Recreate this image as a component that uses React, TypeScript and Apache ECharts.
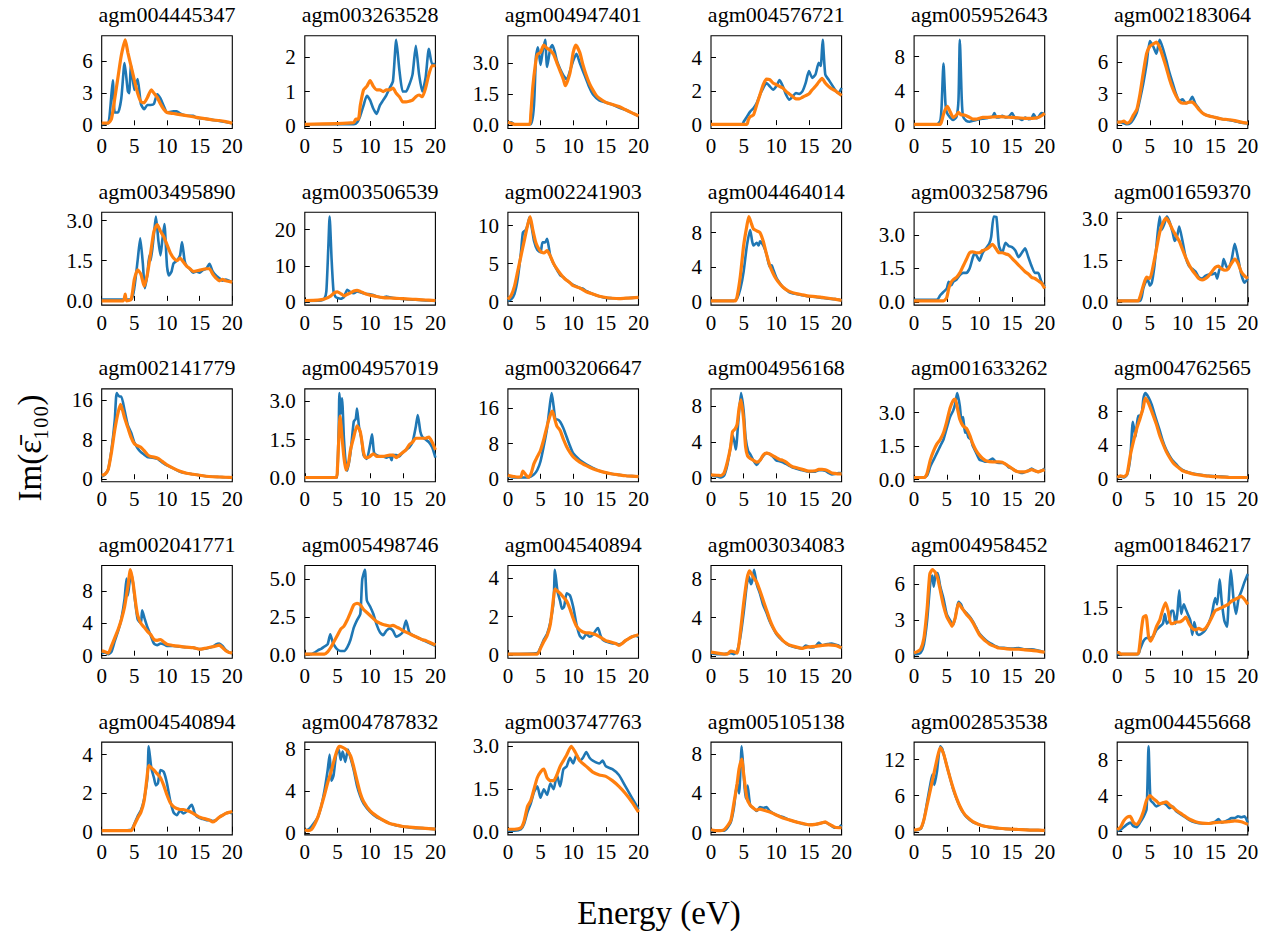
import React, { useEffect, useRef } from "react";
import * as echarts from "echarts";

const titles = [
  "agm004445347", "agm003263528", "agm004947401", "agm004576721", "agm005952643", "agm002183064",
  "agm003495890", "agm003506539", "agm002241903", "agm004464014", "agm003258796", "agm001659370",
  "agm002141779", "agm004957019", "agm003206647", "agm004956168", "agm001633262", "agm004762565",
  "agm002041771", "agm005498746", "agm004540894", "agm003034083", "agm004958452", "agm001846217",
  "agm004540894", "agm004787832", "agm003747763", "agm005105138", "agm002853538", "agm004455668",
];

const yTicks = [
  [0, 3, 6], [0, 1, 2], [0, 1.5, 3], [0, 2, 4], [0, 4, 8], [0, 3, 6],
  [0, 1.5, 3], [0, 10, 20], [0, 5, 10], [0, 4, 8], [0, 1.5, 3], [0, 1.5, 3],
  [0, 8, 16], [0, 1.5, 3], [0, 8, 16], [0, 4, 8], [0, 1.5, 3], [0, 4, 8],
  [0, 4, 8], [0, 2.5, 5], [0, 2, 4], [0, 4, 8], [0, 3, 6], [0, 1.5],
  [0, 2, 4], [0, 4, 8], [0, 1.5, 3], [0, 4, 8], [0, 6, 12], [0, 4, 8],
];
const yDecimals = [
  0, 0, 1, 0, 0, 0,
  1, 0, 0, 0, 1, 1,
  0, 1, 0, 0, 1, 0,
  0, 1, 0, 0, 0, 1,
  0, 0, 1, 0, 0, 0,
];
const xTicks = [0, 5, 10, 15, 20];

const b01 = [[0,0.1],[1,0.2],[1.3,1.5],[1.7,4.2],[2,1.2],[2.5,1.2],[3,2.5],[3.5,5.8],[4,3.2],[4.2,3.0],[4.5,5.6],[5,3.3],[5.5,4.3],[6,2.0],[6.5,1.5],[7,1.9],[7.5,1.9],[8,2.0],[8.5,2.9],[9,2.5],[9.5,1.8],[10,1.2],[11,1.3],[11.5,1.3],[12,1.1],[13,0.9],[14,0.9],[14.5,0.7],[16,0.6],[18,0.4],[20,0.2]];
const o01 = [[0,0.2],[1,0.2],[1.5,0.6],[2,2.5],[2.5,4.5],[3,6.5],[3.6,7.95],[4,6.8],[4.5,5.5],[5,4.2],[5.5,3.0],[6,2.2],[6.5,2.1],[7,2.6],[7.6,3.3],[8,3.0],[8.5,2.6],[9,2.0],[9.5,1.5],[10,1.2],[11,1.1],[12,1.0],[13,0.9],[14,0.8],[15,0.7],[16,0.6],[17,0.5],[18,0.45],[19,0.35],[20,0.2]];
const b02 = [[0,0.05],[7.5,0.05],[8,0.1],[8.5,0.3],[9,0.6],[9.5,0.88],[10,0.75],[10.5,0.5],[11,0.35],[11.5,0.6],[12,0.75],[12.5,0.9],[13,1.1],[13.5,1.3],[14,2.5],[14.5,1.6],[15,1.0],[15.5,1.0],[16,1.2],[16.5,1.5],[17,2.33],[17.5,1.5],[18,1.0],[18.5,1.4],[19,2.24],[19.5,1.8],[20,1.8]];
const o02 = [[0,0.05],[7.5,0.1],[7.8,0.2],[8.2,0.2],[8.5,0.6],[9,1.05],[9.5,1.15],[10,1.32],[10.5,1.15],[11,1.05],[11.5,1.05],[12,1.0],[12.5,1.05],[13,1.05],[13.5,1.1],[14,0.95],[14.5,0.85],[15,0.7],[15.5,0.7],[16,0.72],[16.5,0.75],[17,0.85],[17.5,0.9],[18,0.85],[18.5,1.1],[19,1.5],[19.5,1.75],[20,1.75]];
const b03 = [[0,0.1],[0.5,0.15],[1,0.05],[3.5,0.05],[4,1.0],[4.3,3.3],[4.6,3.75],[5,2.9],[5.3,3.5],[5.7,4.1],[6,2.8],[6.5,3.7],[6.8,3.85],[7.2,3.5],[7.5,3.1],[8,2.7],[8.5,2.4],[9,2.2],[9.5,2.6],[10,3.1],[10.5,3.43],[11,3.0],[11.5,2.6],[12,2.2],[12.5,1.8],[13,1.5],[14,1.2],[15,1.1],[16,1.0],[17,0.85],[18,0.75],[19,0.6],[20,0.45]];
const o03 = [[0,0.15],[0.5,0.1],[1,0.05],[3.3,0.05],[3.5,0.5],[3.8,1.8],[4.2,2.9],[4.5,3.4],[5,3.5],[5.5,3.85],[6,3.7],[6.5,3.6],[7,3.4],[7.5,3.0],[8,2.6],[8.5,2.2],[8.8,1.9],[9.5,2.5],[10,3.5],[10.4,3.85],[11,3.5],[11.5,2.9],[12,2.4],[12.5,2.0],[13,1.7],[13.5,1.45],[14,1.3],[15,1.1],[16,1.0],[16.5,0.95],[17,0.9],[18,0.75],[19,0.6],[20,0.45]];
const b04 = [[0,0.05],[4.8,0.05],[5,0.2],[5.5,0.5],[6,0.8],[6.5,1.0],[7,1.3],[7.5,1.8],[8,2.2],[8.5,2.5],[9,2.3],[9.5,2.1],[10,2.3],[10.5,2.67],[11,2.3],[11.5,1.8],[12,1.5],[12.5,1.7],[13,1.9],[13.5,1.85],[14,2.0],[14.5,2.5],[15,3.2],[15.5,2.8],[16,3.0],[16.5,3.7],[16.8,3.5],[17.1,5.05],[17.5,3.0],[18,2.7],[18.5,2.4],[19,2.1],[19.5,1.9],[20,2.2]];
const o04 = [[0,0.05],[5.5,0.05],[5.7,0.3],[6,0.5],[6.5,0.6],[7,1.2],[7.5,1.8],[8,2.4],[8.5,2.73],[9,2.7],[9.5,2.5],[10,2.4],[10.5,2.3],[11,2.2],[11.5,2.0],[12,1.85],[12.5,1.7],[13,1.55],[13.5,1.55],[14,1.65],[14.5,1.75],[15,1.85],[15.5,2.1],[16,2.3],[16.5,2.55],[17,2.77],[17.5,2.5],[18,2.3],[18.5,2.15],[19,2.05],[19.5,1.9],[20,1.75]];
const b05 = [[0,0.1],[3.5,0.1],[4,0.5],[4.2,2],[4.5,7.2],[4.8,2.5],[5,1.5],[5.5,0.9],[6,0.6],[6.5,1.0],[6.8,3],[7.0,9.96],[7.3,3],[7.5,1.0],[8,0.5],[8.5,0.4],[9,0.5],[9.5,0.6],[10,0.7],[11,0.8],[11.5,0.9],[12,1.0],[12.3,1.4],[12.6,0.9],[13,0.9],[13.5,1.1],[14,0.9],[14.5,1.0],[15,1.4],[15.5,0.8],[16,0.8],[16.5,0.6],[17,0.9],[17.5,0.7],[18,0.8],[18.3,1.3],[18.7,0.8],[19,0.9],[19.5,1.4],[20,1.3]];
const o05 = [[0,0.1],[4,0.1],[4.2,0.4],[4.6,1.5],[5.1,2.2],[5.5,1.6],[6,0.9],[6.5,1.2],[6.8,1.5],[7.2,1.2],[7.5,1.2],[8,1.1],[8.5,0.9],[9,0.7],[9.5,0.7],[10,0.8],[10.5,0.9],[11,0.9],[12,0.95],[13,1.0],[14,0.95],[15,0.9],[16,0.85],[17,0.8],[18,0.8],[19,0.9],[19.5,1.1],[20,1.4]];
const b06 = [[0,0.3],[0.5,0.3],[1,0.2],[1.5,0.1],[2,0.2],[2.5,0.6],[3,1.2],[3.5,2.5],[4,4.0],[4.5,5.8],[5,8.0],[5.5,7.5],[6,6.8],[6.5,8.1],[7,7.3],[7.5,6.2],[8,5.0],[8.5,4.0],[9,3.0],[9.5,2.3],[10,2.46],[10.5,2.1],[11,2.2],[11.5,2.7],[12,2.0],[12.5,1.6],[13,1.2],[13.5,1.0],[14,0.9],[15,0.75],[16,0.6],[17,0.5],[18,0.4],[19,0.25],[20,0.2]];
const o06 = [[0,0.3],[0.5,0.3],[1,0.4],[1.5,0.2],[2,0.4],[2.5,1.0],[3,1.5],[3.5,3.0],[4,5.0],[4.5,6.8],[5,7.5],[5.5,7.7],[6,7.9],[6.5,7.4],[7,6.5],[7.5,5.5],[8,4.4],[8.5,3.5],[9,2.8],[9.5,2.3],[10,2.1],[10.5,2.1],[11,2.2],[11.5,2.2],[12,1.9],[12.5,1.5],[13,1.2],[13.5,1.0],[14,0.9],[15,0.75],[16,0.6],[17,0.55],[18,0.45],[19,0.3],[20,0.2]];
const b07 = [[0,0.05],[4.5,0.05],[5,0.5],[5.5,1.5],[5.9,2.34],[6.3,1.4],[6.6,0.47],[7,1.0],[7.3,1.7],[7.5,1.5],[8,2.5],[8.3,3.15],[8.7,2.2],[9,1.7],[9.3,2.3],[9.6,2.87],[10,1.3],[10.3,0.95],[10.7,1.1],[11,1.4],[11.5,1.5],[12,1.7],[12.3,2.2],[12.7,1.5],[13,1.3],[13.5,1.2],[14,1.05],[14.5,1.1],[15,1.05],[15.5,1.15],[16,1.2],[16.5,1.38],[17,1.1],[17.5,0.95],[18,0.85],[18.5,0.75],[19,0.8],[19.5,0.75],[20,0.7]];
const o07 = [[0,0.0],[3.3,0.0],[3.6,0.25],[3.8,0.0],[4.5,0.05],[5,0.8],[5.5,1.16],[6,1.0],[6.5,0.55],[7,1.0],[7.5,1.8],[8,2.6],[8.5,2.85],[9,2.6],[9.5,2.4],[10,2.1],[10.5,1.8],[11,1.6],[11.5,1.5],[12,1.6],[12.5,1.45],[13,1.3],[13.5,1.2],[14,1.1],[15,1.15],[16,1.2],[16.5,1.2],[17,1.0],[17.5,0.85],[18,0.75],[18.5,0.8],[19,0.75],[20,0.7]];
const b08 = [[0,0.4],[2.5,0.5],[3,1.0],[3.3,3],[3.6,15],[3.8,23.6],[4.1,12],[4.4,3],[4.7,1.5],[5,1.2],[5.5,1.0],[6,1.5],[6.5,3.45],[7,2.8],[7.5,2.5],[8,3.0],[8.5,2.8],[9,2.5],[9.5,2.3],[10,2.2],[10.5,2.0],[11,1.6],[12,1.3],[12.5,1.6],[13,1.4],[14,1.1],[15,0.9],[16,0.8],[17,0.7],[18,0.6],[19,0.5],[20,0.4]];
const o08 = [[0,0.5],[2,0.6],[3,0.9],[4,1.8],[4.5,2.6],[5,2.9],[5.5,2.4],[6,1.8],[6.5,2.2],[7,2.6],[7.5,3.1],[8,3.3],[8.5,3.0],[9,2.6],[9.5,2.2],[10,2.0],[11,1.6],[12,1.3],[13,1.2],[14,1.1],[15,1.0],[16,0.9],[17,0.8],[18,0.7],[19,0.6],[20,0.5]];
const b09 = [[0,0.1],[0.5,0.3],[1,1.0],[1.5,3.0],[2,6.5],[2.3,9.1],[2.7,9.4],[3,10.0],[3.3,11.1],[3.7,9.5],[4,8.0],[4.5,6.8],[5,6.5],[5.3,7.8],[5.7,7.8],[6,8.26],[6.3,7.0],[6.5,6.0],[7,5.0],[7.5,4.2],[8,3.5],[8.5,3.2],[9,2.8],[9.5,2.5],[10,2.2],[11,1.8],[11.5,1.7],[12,1.4],[13,1.0],[14,0.7],[15,0.5],[16,0.45],[17,0.4],[18,0.45],[19,0.5],[20,0.55]];
const o09 = [[0,0.3],[0.5,0.8],[1,2.0],[1.5,4.0],[2,6.0],[2.5,8.0],[3,10.0],[3.4,11.2],[3.8,9.5],[4.2,8.0],[4.5,7.3],[5,6.6],[5.5,6.4],[6,6.7],[6.5,6.0],[7,5.0],[7.5,4.3],[8,3.7],[8.5,3.2],[9,2.8],[9.5,2.5],[10,2.1],[11,1.8],[12,1.3],[13,1.0],[14,0.7],[15,0.55],[16,0.45],[17,0.4],[18,0.45],[19,0.5],[20,0.55]];
const b10 = [[0,0.1],[3.5,0.1],[4,0.4],[4.5,1.5],[5,3.5],[5.5,6.5],[6,8.3],[6.3,7.0],[6.5,6.5],[7,6.8],[7.3,6.5],[7.5,7.0],[8,6.5],[8.5,5.5],[9,4.0],[9.3,4.2],[9.5,3.8],[10,2.8],[10.5,2.2],[11,1.7],[11.5,1.4],[12,1.1],[13,0.9],[14,0.75],[15,0.6],[16,0.55],[17,0.45],[18,0.35],[19,0.3],[20,0.15]];
const o10 = [[0,0.1],[3.7,0.1],[4,0.6],[4.5,3.0],[5,6.5],[5.5,8.8],[5.8,9.85],[6.2,9.0],[6.5,8.4],[7,8.2],[7.5,8.0],[8,7.0],[8.5,5.5],[9,4.2],[9.5,3.3],[10,2.6],[10.5,2.1],[11,1.7],[11.5,1.4],[12,1.2],[13,0.95],[14,0.8],[15,0.65],[16,0.6],[17,0.5],[18,0.4],[19,0.3],[20,0.15]];
const b11 = [[0,0.1],[3.5,0.1],[4,0.3],[4.5,0.45],[5,0.6],[5.3,0.9],[5.7,0.75],[6,0.9],[6.5,1.0],[7,1.2],[7.5,1.3],[8,1.3],[8.5,1.5],[9,2.0],[9.3,2.2],[9.7,2.0],[10,1.85],[10.5,2.2],[11,2.4],[11.5,2.6],[11.8,2.9],[12.2,3.82],[12.6,3.8],[13,2.5],[13.5,2.2],[14,2.65],[14.5,2.5],[15,2.45],[15.5,2.3],[16,2.0],[16.5,2.2],[17,2.4],[17.5,2.0],[18,1.6],[18.5,1.3],[19,1.3],[19.5,0.9],[20,0.7]];
const o11 = [[0,0.05],[4.5,0.05],[5,0.2],[5.3,0.6],[5.7,0.9],[6,1.0],[6.5,1.1],[7,1.3],[7.5,1.6],[8,1.9],[8.5,2.2],[9,2.24],[9.5,2.2],[10,2.2],[10.5,2.3],[11,2.35],[11.5,2.45],[12,2.58],[12.5,2.4],[13,2.2],[13.5,2.2],[14,2.15],[14.5,2.1],[15,1.95],[15.5,1.8],[16,1.65],[16.5,1.5],[17,1.35],[17.5,1.25],[18,1.1],[18.5,1.05],[19,0.95],[19.5,0.85],[20,0.6]];
const b12 = [[0,0.05],[3.5,0.05],[4,0.5],[4.3,0.7],[4.7,0.8],[5,0.6],[5.3,0.7],[5.7,1.3],[6,2.0],[6.5,3.08],[6.8,2.6],[7.2,2.8],[7.6,3.08],[8,2.9],[8.5,2.5],[8.8,2.2],[9.2,2.4],[9.5,2.72],[10,2.2],[10.5,1.6],[11,1.3],[11.5,1.2],[12,1.1],[12.5,0.9],[13,0.85],[13.5,0.95],[14,1.0],[14.5,1.0],[15,1.05],[15.3,0.85],[15.7,1.2],[16,1.2],[16.3,1.55],[16.7,1.3],[17,1.2],[17.5,1.5],[18,2.1],[18.5,1.6],[19,1.0],[19.5,0.7],[20,0.85]];
const o12 = [[0,0.05],[3.2,0.05],[3.5,0.2],[4,0.6],[4.5,0.9],[5,0.85],[5.5,1.3],[6,1.9],[6.5,2.5],[7,2.85],[7.5,3.02],[8,2.85],[8.5,2.6],[9,2.4],[9.5,2.2],[10,1.9],[10.5,1.6],[11,1.35],[11.5,1.15],[12,1.0],[12.5,0.85],[13,0.8],[13.5,0.85],[14,0.95],[14.5,1.1],[15,1.25],[15.5,1.3],[16,1.2],[16.5,1.15],[17,1.2],[17.5,1.4],[18,1.55],[18.5,1.4],[19,1.1],[19.5,0.95],[20,0.85]];
const b13 = [[0,0.5],[0.5,1.0],[1,2.0],[1.5,6.0],[2,12.0],[2.3,17.5],[2.7,16.8],[3,16.8],[3.5,14.0],[4,11.0],[4.5,9.5],[5,7.5],[5.5,6.3],[6,5.5],[6.5,5.0],[7,4.5],[7.5,4.4],[8,4.3],[8.5,4.2],[9,3.7],[9.5,3.2],[10,2.8],[11,2.2],[12,1.5],[13,1.2],[14,1.0],[15,0.8],[16,0.6],[17,0.5],[18,0.45],[19,0.4],[20,0.4]];
const o13 = [[0,0.8],[0.5,1.0],[1,2.0],[1.5,5.5],[2,10.0],[2.5,13.5],[2.9,15.2],[3.5,12.5],[4,10.5],[4.5,8.5],[5,7.2],[5.5,6.8],[6,6.5],[6.5,5.8],[7,5.0],[7.5,4.6],[8,4.5],[8.5,4.3],[9,3.9],[9.5,3.4],[10,2.9],[11,2.2],[12,1.6],[13,1.2],[14,1.0],[15,0.8],[16,0.6],[17,0.5],[18,0.45],[19,0.4],[20,0.35]];
const b14 = [[0,0.03],[4.8,0.03],[5,0.3],[5.2,2.0],[5.3,3.3],[5.5,2.5],[5.7,3.1],[6,1.5],[6.3,0.5],[6.5,0.3],[7,1.0],[7.5,2.2],[7.8,2.3],[8,2.7],[8.3,2.0],[8.7,1.5],[9,0.9],[9.5,0.75],[10,1.3],[10.3,1.7],[10.6,1.0],[11,0.9],[11.5,0.85],[12,0.85],[12.5,0.8],[13,0.85],[13.3,0.7],[13.5,0.9],[14,0.9],[14.5,0.85],[15,1.0],[15.5,1.1],[16,1.2],[16.5,1.4],[17,2.0],[17.3,2.45],[17.7,1.8],[18,1.6],[18.5,1.5],[19,1.4],[19.5,1.2],[20,0.8]];
const o14 = [[0,0.03],[4.8,0.03],[5,0.4],[5.2,1.5],[5.4,2.41],[5.7,1.6],[6,0.8],[6.3,0.32],[6.7,0.6],[7,1.1],[7.5,1.6],[8,2.03],[8.5,1.8],[9,1.0],[9.3,0.8],[9.5,0.8],[10,0.85],[10.5,0.95],[11,0.85],[12,0.85],[13,0.9],[13.5,0.9],[14,0.8],[14.5,0.9],[15,1.0],[15.5,1.1],[16,1.3],[16.5,1.4],[17,1.55],[18,1.55],[18.5,1.55],[19,1.6],[19.5,1.4],[20,1.1]];
const b15 = [[0,0.5],[1,0.3],[3,0.3],[3.5,0.5],[4,1.0],[4.5,2.0],[5,4.0],[5.5,7.5],[6,11.5],[6.4,16.5],[6.7,19.5],[7,16.5],[7.3,13.5],[7.6,13.5],[8,13.0],[8.5,11.5],[9,9.5],[9.5,7.5],[10,5.8],[11,4.3],[12,3.3],[13,2.5],[14,1.8],[15,1.4],[16,1.1],[17,0.9],[18,0.7],[19,0.6],[20,0.5]];
const o15 = [[0,0.8],[0.5,0.6],[1,0.5],[1.5,0.4],[2,0.5],[2.3,1.75],[2.7,1.0],[3.1,0.3],[3.5,1.0],[4,3.5],[4.5,5.0],[5,6.5],[5.5,9.0],[6,12.0],[6.5,14.5],[6.8,15.4],[7.2,13.5],[7.5,12.0],[8,11.0],[8.5,9.0],[9,7.3],[9.5,6.0],[10,5.0],[11,3.8],[12,3.0],[13,2.3],[14,1.8],[15,1.4],[16,1.1],[17,0.9],[18,0.7],[19,0.6],[20,0.5]];
const b16 = [[0,0.3],[1,0.2],[1.5,0.1],[2,0.3],[2.5,1.5],[3,3.5],[3.3,4.8],[3.6,4.0],[3.8,3.2],[4.2,6.5],[4.6,9.47],[5,7.5],[5.3,4.5],[5.7,3.0],[6,2.7],[6.5,2.0],[7,1.5],[7.5,2.0],[8,2.5],[8.5,2.8],[9,2.7],[9.5,2.4],[10,2.0],[10.5,1.9],[11,1.8],[11.5,1.6],[12,1.4],[12.5,1.2],[13,1.1],[14,0.9],[15,0.75],[16,0.75],[16.5,0.9],[17,0.9],[17.5,0.85],[18,0.6],[18.5,0.45],[19,0.5],[19.5,0.6],[20,0.6]];
const o16 = [[0,0.4],[1,0.35],[1.5,0.3],[2,0.6],[2.5,1.8],[3,3.5],[3.3,5.2],[3.7,5.5],[4,6.0],[4.3,7.8],[4.6,8.73],[5,6.5],[5.3,3.5],[5.6,2.5],[6,2.2],[6.5,2.0],[7,1.8],[7.5,2.0],[8,2.6],[8.5,2.8],[9,2.7],[9.5,2.5],[10,2.3],[10.5,2.1],[11,2.0],[11.5,1.8],[12,1.5],[12.5,1.3],[13,1.2],[14,1.0],[15,0.8],[16,0.85],[16.5,1.0],[17,1.0],[17.5,0.95],[18,0.8],[18.5,0.6],[19,0.55],[19.5,0.5],[20,0.5]];
const b17 = [[0,0.1],[1.5,0.1],[2,0.2],[2.5,0.6],[3,0.9],[3.5,1.2],[4,1.5],[4.5,1.8],[5,2.3],[5.5,2.8],[6,3.1],[6.3,3.4],[6.6,3.87],[7,3.3],[7.3,2.5],[7.5,2.8],[7.8,2.1],[8,2.2],[8.3,1.9],[8.7,1.8],[9,1.5],[9.5,1.2],[10,0.9],[10.5,0.85],[11,0.8],[11.5,0.85],[12,0.95],[12.5,0.8],[13,0.75],[13.5,0.75],[14,0.7],[14.5,0.55],[15,0.5],[15.5,0.4],[16,0.35],[16.5,0.3],[17,0.35],[17.5,0.4],[18,0.5],[18.5,0.4],[19,0.35],[19.5,0.4],[20,0.5]];
const o17 = [[0,0.1],[1.6,0.1],[2,0.3],[2.5,0.9],[3,1.3],[3.5,1.6],[4,1.8],[4.5,2.1],[5,2.6],[5.5,3.2],[6,3.55],[6.3,3.6],[6.7,3.1],[7,2.7],[7.5,2.4],[8,2.3],[8.5,2.0],[9,1.6],[9.5,1.3],[10,1.1],[10.5,0.95],[11,0.85],[12,0.8],[13,0.8],[13.5,0.78],[14,0.7],[14.5,0.6],[15,0.5],[15.5,0.4],[16,0.35],[17,0.35],[17.5,0.4],[18,0.45],[18.5,0.4],[19,0.35],[19.5,0.4],[20,0.45]];
const b18 = [[0,0.2],[0.5,0.3],[1,0.2],[1.5,0.5],[2,2.5],[2.4,6.8],[2.8,5.0],[3.2,7.5],[3.5,7.5],[3.8,8.0],[4,9.5],[4.3,10.2],[4.8,9.7],[5.3,8.8],[5.8,7.5],[6.5,5.8],[7,4.5],[7.5,3.5],[8,2.8],[8.5,2.2],[9,1.8],[9.5,1.4],[10,1.1],[11,0.8],[12,0.6],[13,0.5],[14,0.4],[15,0.35],[16,0.3],[17,0.25],[18,0.2],[20,0.2]];
const o18 = [[0,0.2],[0.5,0.4],[1,0.3],[1.5,0.6],[2,2.8],[2.5,4.5],[3,6.0],[3.5,7.2],[4,8.5],[4.3,9.6],[4.8,9.0],[5.3,8.0],[6,6.5],[6.5,5.2],[7,4.2],[7.5,3.3],[8,2.6],[8.5,2.0],[9,1.6],[9.5,1.3],[10,1.0],[11,0.75],[12,0.55],[13,0.45],[14,0.35],[15,0.3],[16,0.25],[17,0.22],[18,0.2],[20,0.2]];
const b19 = [[0,0.3],[0.5,0.4],[1,0.2],[1.5,0.5],[2,1.8],[2.5,3.0],[3,4.5],[3.5,7.0],[3.8,9.5],[4,7.4],[4.3,9.2],[4.6,10.0],[5,7.5],[5.5,4.5],[6,4.0],[6.2,5.6],[6.6,4.5],[7,3.5],[7.5,2.5],[8,1.5],[8.5,1.3],[9,1.5],[9.5,1.4],[10,1.2],[11,1.2],[12,1.1],[13,1.05],[14,1.0],[15,0.8],[16,0.9],[17,1.1],[17.5,1.4],[18,1.5],[18.5,1.2],[19,0.7],[19.5,0.4],[20,0.3]];
const o19 = [[0,0.6],[0.5,0.5],[1,0.3],[1.5,1.2],[2,2.2],[2.5,3.2],[3,4.4],[3.5,6.0],[4,8.5],[4.4,10.6],[4.8,9.0],[5.2,6.5],[5.5,5.0],[6,4.0],[6.5,3.5],[7,3.0],[7.5,2.6],[8,2.0],[8.5,1.9],[9,2.0],[9.5,1.7],[10,1.4],[11,1.25],[12,1.15],[13,1.05],[14,1.0],[15,0.8],[16,0.95],[17,1.1],[17.5,1.2],[18,1.3],[18.5,1.0],[19,0.6],[19.5,0.4],[20,0.35]];
const b20 = [[0,0.05],[1,0.05],[1.5,0.15],[2,0.3],[2.5,0.4],[3,0.55],[3.5,0.7],[3.9,1.36],[4.3,0.8],[4.7,0.5],[5,0.35],[5.5,0.25],[6,0.25],[6.5,0.5],[7,1.0],[7.5,1.8],[8,2.3],[8.5,2.7],[8.8,5.0],[9.2,5.63],[9.5,3.6],[10,3.2],[10.5,2.7],[11,2.0],[11.5,1.5],[12,1.3],[12.5,1.6],[13,1.75],[13.5,1.6],[14,1.2],[14.5,1.3],[15,1.5],[15.5,2.26],[16,1.5],[16.5,1.3],[17,1.2],[17.5,1.1],[18,1.0],[18.5,0.9],[19,0.8],[19.5,0.7],[20,0.6]];
const o20 = [[0,0.05],[3,0.05],[3.5,0.2],[4,0.5],[4.5,0.9],[5,1.3],[5.5,1.7],[6,1.9],[6.5,2.3],[7,2.8],[7.5,3.3],[8,3.4],[8.5,3.3],[9,3.0],[9.5,2.8],[10,2.6],[10.5,2.4],[11,2.2],[11.5,2.1],[12,2.0],[12.5,1.95],[13,1.9],[13.5,1.95],[14,1.85],[14.5,1.75],[15,1.6],[15.5,1.5],[16,1.4],[16.5,1.3],[17,1.2],[17.5,1.1],[18,1.0],[18.5,0.95],[19,0.85],[19.5,0.75],[20,0.65]];
const b21 = [[0,0.05],[4.5,0.1],[5,0.4],[5.5,0.8],[6,1.1],[6.5,1.7],[7,2.8],[7.2,4.43],[7.6,3.3],[8,2.8],[8.3,2.4],[8.6,2.5],[9,3.2],[9.5,3.1],[10,2.5],[10.5,1.6],[11,1.0],[11.5,0.85],[12,1.1],[12.5,0.95],[13,1.05],[13.5,1.3],[13.8,1.4],[14.2,1.0],[14.5,0.8],[15,0.7],[15.5,0.65],[16,0.6],[16.5,0.6],[17,0.55],[17.5,0.6],[18,0.75],[18.5,0.85],[19,0.95],[19.5,1.0],[20,0.95]];
const o21 = [[0,0.05],[4.5,0.05],[5,0.35],[5.5,0.7],[6,1.0],[6.5,1.6],[7,3.0],[7.2,3.43],[7.5,3.35],[8,3.2],[8.5,3.0],[9,2.8],[9.5,2.4],[10,1.9],[10.5,1.5],[11,1.3],[11.5,1.2],[12,1.15],[12.5,1.15],[13,1.1],[13.5,1.05],[14,0.95],[14.5,0.85],[15,0.75],[15.5,0.7],[16,0.65],[16.5,0.6],[17,0.5],[17.5,0.6],[18,0.75],[18.5,0.85],[19,0.95],[19.5,1.0],[20,1.05]];
const b22 = [[0,0.3],[1,0.2],[2,0.2],[3,0.3],[3.5,0.2],[4,0.5],[4.5,2.0],[5,4.5],[5.5,7.5],[5.8,8.3],[6.1,7.5],[6.3,7.8],[6.6,9.0],[7,7.5],[7.5,6.5],[8,5.3],[8.5,4.5],[9,3.6],[9.5,2.9],[10,2.3],[10.5,1.9],[11,1.6],[11.5,1.3],[12,1.1],[13,0.9],[14,0.8],[14.5,1.1],[15,0.95],[15.5,0.9],[16,1.0],[16.5,1.4],[17,1.1],[17.5,1.2],[18,1.25],[18.5,1.3],[19,1.2],[19.5,1.1],[20,0.8]];
const o22 = [[0,0.4],[1,0.3],[2,0.2],[2.5,0.2],[3,0.5],[3.5,0.45],[4,0.3],[4.5,2.5],[5,5.5],[5.5,8.0],[5.9,8.87],[6.5,8.2],[7,7.7],[7.5,6.8],[8,5.8],[8.5,4.8],[9,3.8],[9.5,3.0],[10,2.4],[10.5,2.0],[11,1.6],[11.5,1.35],[12,1.15],[13,0.95],[14,0.8],[14.5,0.9],[15,0.95],[16,1.0],[17,1.1],[18,1.15],[19,1.1],[19.5,1.0],[20,0.85]];
const b23 = [[0,0.2],[0.5,0.2],[1,0.3],[1.5,1.0],[2,3.0],[2.5,6.2],[2.8,6.7],[3,5.78],[3.3,6.8],[3.6,6.9],[4,5.8],[4.5,4.8],[5,3.5],[5.5,3.0],[6,2.6],[6.5,3.8],[6.8,4.52],[7.2,4.3],[7.5,3.9],[8,3.6],[8.5,3.3],[9,2.9],[9.5,2.4],[10,1.9],[10.5,1.6],[11,1.35],[11.5,1.15],[12,1.0],[12.5,0.85],[13,0.75],[14,0.7],[15,0.65],[16,0.7],[17,0.6],[18,0.6],[19,0.5],[20,0.35]];
const o23 = [[0,0.3],[0.5,0.4],[1,0.6],[1.5,1.5],[2,4.0],[2.4,6.8],[2.8,7.18],[3.2,7.0],[3.6,6.5],[4,5.5],[4.5,4.2],[5,3.3],[5.5,2.8],[5.8,2.5],[6.3,3.2],[6.8,4.4],[7.2,4.1],[7.6,3.8],[8,3.5],[8.5,3.2],[9,2.8],[9.5,2.3],[10,1.8],[10.5,1.5],[11,1.25],[11.5,1.05],[12,0.9],[12.5,0.8],[13,0.7],[14,0.65],[15,0.6],[16,0.6],[17,0.55],[18,0.5],[19,0.45],[20,0.35]];
const b24 = [[0,0.05],[3.2,0.05],[3.5,0.2],[4,0.45],[4.5,0.55],[5,0.55],[5.5,0.6],[6,0.8],[6.5,0.9],[7,1.0],[7.3,1.3],[7.6,1.0],[8,1.1],[8.3,1.4],[8.6,1.4],[8.9,1.0],[9.2,1.3],[9.5,2.04],[9.8,1.3],[10.2,1.6],[10.5,1.45],[10.8,1.3],[11.2,1.1],[11.5,0.65],[11.8,1.05],[12.2,0.7],[12.5,0.65],[13,0.7],[13.5,0.8],[14,1.0],[14.5,1.3],[15,1.8],[15.3,1.6],[15.7,2.38],[16,1.7],[16.4,1.1],[16.8,0.9],[17.1,1.8],[17.4,2.68],[17.8,1.8],[18.2,1.3],[18.6,1.8],[19,2.0],[19.5,2.3],[20,2.55]];
const o24 = [[0,0.1],[0.3,0.1],[0.5,0.05],[3,0.05],[3.3,0.1],[3.7,0.8],[4,1.2],[4.4,1.25],[4.8,0.6],[5.1,0.45],[5.5,0.6],[6,0.9],[6.5,1.1],[7,1.45],[7.4,1.65],[7.8,1.4],[8.2,1.0],[8.5,1.0],[9,1.05],[9.5,1.05],[10,1.1],[10.5,1.2],[11,1.0],[11.5,0.85],[12,0.8],[12.5,0.85],[13,0.8],[13.5,0.85],[14,1.0],[14.5,1.2],[15,1.4],[15.5,1.45],[16,1.5],[16.5,1.55],[17,1.6],[17.5,1.7],[18,1.75],[18.5,1.8],[19,1.85],[19.5,1.75],[20,1.6]];
const b26 = [[0,0.2],[0.5,0.3],[1,0.6],[1.5,1.0],[2,1.5],[2.5,2.5],[3,4],[3.5,6],[3.8,7.5],[4.1,5],[4.4,5.5],[4.8,7.5],[5.2,8.0],[5.5,7.0],[5.8,7.8],[6.2,6.8],[6.6,8.0],[7,7.2],[7.5,6],[8,4.5],[8.5,3.5],[9,2.8],[10,2.0],[11,1.5],[12,1.2],[13,0.9],[14,0.7],[15,0.6],[16,0.5],[17,0.45],[18,0.45],[19,0.4],[20,0.35]];
const o26 = [[0,0.3],[0.5,0.2],[1,0.3],[1.5,0.8],[2,1.5],[2.5,2.5],[3,3.6],[3.5,4.8],[4,5.8],[4.5,7.0],[5,8.0],[5.3,8.3],[5.8,8.2],[6.3,8.0],[7,7.4],[7.5,6.3],[8,5.0],[8.5,3.8],[9,3.0],[10,2.1],[11,1.6],[12,1.2],[13,0.9],[14,0.75],[15,0.6],[16,0.55],[17,0.5],[18,0.45],[19,0.4],[20,0.35]];
const b27 = [[0,0.05],[1,0.05],[2,0.1],[2.5,0.3],[3,0.7],[3.5,1.0],[4,1.4],[4.5,1.6],[5,1.2],[5.5,1.5],[6,1.3],[6.5,1.7],[7,1.5],[7.5,2.0],[8,1.6],[8.5,2.2],[9,2.3],[9.5,2.6],[10,2.4],[10.5,2.7],[11,2.5],[11.5,2.6],[12,2.8],[12.5,2.6],[13,2.5],[14,2.4],[14.5,2.5],[15,2.3],[16,2.2],[17,2.0],[18,1.6],[19,1.2],[20,0.8]];
const o27 = [[0,0.1],[1,0.1],[2,0.15],[2.5,0.4],[3,0.9],[3.5,1.1],[4,1.5],[4.5,1.9],[5,2.1],[5.5,2.2],[6,1.9],[6.5,1.8],[7,1.8],[7.5,2.0],[8,2.3],[8.5,2.5],[9,2.7],[9.7,3.0],[10.3,2.8],[11,2.5],[12,2.3],[13,2.1],[14,2.0],[15,1.95],[16,1.8],[17,1.6],[18,1.35],[19,1.05],[20,0.7]];
const b28 = [[0,0.2],[2,0.2],[3,1.0],[3.5,2.5],[4,5],[4.3,4],[4.7,8.8],[5,6],[5.3,3.5],[5.6,4.8],[6,2.8],[6.5,2.5],[7,2.2],[7.5,2.6],[8,2.5],[8.5,2.6],[9,2.2],[10,1.8],[11,1.6],[12,1.3],[13,1.1],[14,0.9],[15,0.8],[16,0.85],[17,1.0],[17.5,1.05],[18,0.9],[19,0.5],[19.5,0.5],[20,0.8]];
const o28 = [[0,0.3],[1,0.2],[2,0.3],[3,1.2],[3.5,3.0],[4,5.0],[4.3,6.5],[4.7,7.5],[5,6.0],[5.5,3.5],[6,2.8],[6.5,2.5],[7,2.3],[7.5,2.4],[8,2.3],[9,2.1],[10,1.8],[11,1.5],[12,1.3],[13,1.1],[14,0.95],[15,0.8],[16,0.85],[17,1.0],[17.5,1.1],[18,0.9],[19,0.55],[20,0.5]];
const b29 = [[0,0.2],[1,0.5],[1.5,2],[2,5],[2.5,8],[2.8,9.5],[3.1,7.8],[3.5,10],[4,14.2],[4.3,13.8],[5,11],[5.5,9],[6,7],[6.5,5.5],[7,4.2],[7.5,3.2],[8,2.5],[9,1.6],[10,1.2],[11,0.9],[12,0.7],[13,0.6],[14,0.5],[15,0.45],[16,0.4],[17,0.35],[18,0.3],[19,0.3],[20,0.25]];
const o29 = [[0,0.3],[1,0.6],[1.5,2.0],[2,4.5],[2.5,7],[3,9.5],[3.5,12],[4,14.0],[4.5,13],[5,11],[5.5,9],[6,7.2],[6.5,5.6],[7,4.3],[7.5,3.3],[8,2.6],[9,1.7],[10,1.2],[11,0.9],[12,0.75],[13,0.6],[14,0.5],[15,0.45],[16,0.4],[17,0.35],[18,0.3],[19,0.3],[20,0.25]];
const b30 = [[0,0.1],[0.5,0.2],[1,0.5],[1.5,0.8],[2,1.0],[2.5,0.6],[3,0.5],[3.5,1.0],[4,1.6],[4.5,2.5],[4.8,9.5],[5.1,3.5],[5.5,3.2],[6,2.8],[6.5,3.0],[7,3.2],[7.5,3.0],[8,2.6],[8.5,2.8],[9,2.3],[10,1.8],[11,1.3],[12,1.0],[13,0.9],[14,0.9],[15,1.1],[15.5,1.4],[16,1.0],[17,1.3],[17.5,1.5],[18,1.5],[18.5,1.7],[19,1.6],[19.5,1.7],[20,1.0]];
const o30 = [[0,0.2],[0.5,0.5],[1,1.2],[1.5,1.6],[2,1.7],[2.5,1.0],[3,0.8],[3.5,1.3],[4,2.2],[4.5,3.5],[5,4.0],[5.5,3.7],[6,3.4],[6.5,3.1],[7,3.2],[7.5,3.3],[8,3.0],[8.5,2.7],[9,2.4],[10,1.9],[11,1.4],[12,1.1],[13,0.95],[14,0.9],[15,1.0],[16,1.05],[17,1.1],[18,1.2],[19,1.1],[20,0.8]];

const blueData = [b01,b02,b03,b04,b05,b06,b07,b08,b09,b10,b11,b12,b13,b14,b15,b16,b17,b18,b19,b20,b21,b22,b23,b24,b21,b26,b27,b28,b29,b30];
const orangeData = [o01,o02,o03,o04,o05,o06,o07,o08,o09,o10,o11,o12,o13,o14,o15,o16,o17,o18,o19,o20,o21,o22,o23,o24,o21,o26,o27,o28,o29,o30];

const FONT = "Liberation Serif";
const LEFT0 = 101.7, DX = 203.1, TOP0 = 35.7, DY = 176.6, W = 130.6, H = 92.8;

function buildOption() {
  const grid: any[] = [], xAxis: any[] = [], yAxis: any[] = [], series: any[] = [], graphic: any[] = [];
  for (let i = 0; i < titles.length; i++) {
    const r = Math.floor(i / 6), c = i % 6;
    const left = LEFT0 + c * DX, top = TOP0 + r * DY;
    grid.push({ left, top, width: W, height: H, show: true, borderColor: "#000", borderWidth: 1.1, backgroundColor: "transparent" });
    xAxis.push({
      type: "value", gridIndex: i, min: 0, max: 20, interval: 5,
      axisLine: { show: false }, splitLine: { show: false },
      axisTick: { show: true, inside: true, length: 5, lineStyle: { color: "#000", width: 1 } },
      axisLabel: { color: "#000", fontFamily: FONT, fontSize: 21, margin: 7, customValues: xTicks },
    });
    const vals = blueData[i].concat(orangeData[i]).map((p) => p[1]);
    const dmin = Math.min(...vals), dmax = Math.max(...vals);
    const pad = 0.05 * (dmax - dmin);
    const dec = yDecimals[i];
    yAxis.push({
      type: "value", gridIndex: i, min: dmin - pad, max: dmax + pad,
      axisLine: { show: false }, splitLine: { show: false },
      axisTick: { show: true, inside: true, length: 5, lineStyle: { color: "#000", width: 1 }, customValues: yTicks[i] },
      axisLabel: { color: "#000", fontFamily: FONT, fontSize: 21, margin: 9, customValues: yTicks[i], formatter: (v: number) => v.toFixed(dec) },
    });
    series.push({
      type: "line", xAxisIndex: i, yAxisIndex: i, data: blueData[i], showSymbol: false, symbol: "none",
      smooth: 0.2, lineStyle: { color: "#1f77b4", width: 2.6 }, itemStyle: { color: "#1f77b4" }, z: 2,
    });
    series.push({
      type: "line", xAxisIndex: i, yAxisIndex: i, data: orangeData[i], showSymbol: false, symbol: "none",
      smooth: 0.2, lineStyle: { color: "#ff7f0e", width: 3.2 }, itemStyle: { color: "#ff7f0e" }, z: 3,
    });
    graphic.push({
      type: "text", x: left + W / 2, y: top - 21,
      style: { text: titles[i], fontFamily: FONT, fontSize: 22, fill: "#000", textAlign: "center", textVerticalAlign: "middle" },
    });
  }
  graphic.push({
    type: "text", x: 659, y: 913,
    style: { text: "Energy (eV)", fontFamily: FONT, fontSize: 33, fill: "#000", textAlign: "center", textVerticalAlign: "middle" },
  });
  graphic.push({
    type: "text", x: 30, y: 448, rotation: Math.PI / 2,
    style: { text: "Im(\u03B5\u0304\u2081\u2080\u2080)", fontFamily: FONT, fontSize: 33, fill: "#000", textAlign: "center", textVerticalAlign: "middle" },
  });
  return { animation: false, backgroundColor: "#fff", grid, xAxis, yAxis, series, graphic };
}

export default function App() {
  const ref = useRef<HTMLDivElement>(null);
  useEffect(() => {
    if (!ref.current) return;
    const chart = echarts.init(ref.current, undefined, { renderer: "svg" });
    chart.setOption(buildOption() as any);
    return () => chart.dispose();
  }, []);
  return <div ref={ref} style={{ position: "absolute", left: 0, top: 0, width: 1277, height: 937 }} />;
}
